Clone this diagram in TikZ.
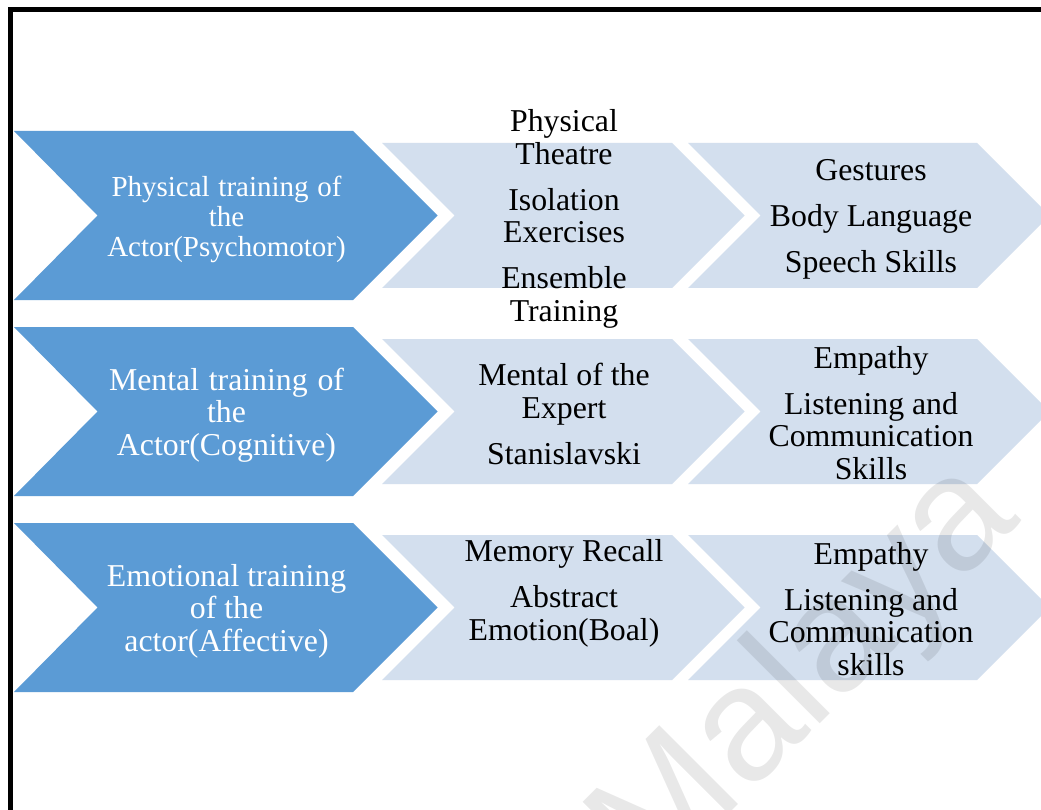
\documentclass[tikz,border=0pt]{standalone}
\usepackage{fontspec}
\setmainfont{Liberation Serif}
\newfontfamily\wmfont{Liberation Sans}
\definecolor{darkblue}{HTML}{5B9BD5}
\definecolor{lightblue}{HTML}{D3DFEE}
\begin{document}
\begin{tikzpicture}[x=1pt,y=-1pt,
  darkchev/.style={fill=darkblue},
  lightchev/.style={fill=lightblue},
  whitetxt/.style={text=white,align=center,inner sep=0pt,font=\fontsize{31.8}{32.5}\selectfont},
  whitetxtA/.style={text=white,align=center,inner sep=0pt,font=\fontsize{29}{30}\selectfont},
  blacktxt/.style={text=black,align=center,inner sep=0pt,font=\fontsize{31.8}{32.5}\selectfont},
  frameline/.style={line width=5pt,draw=black},
  wmark/.style={text=black,opacity=0.09,font=\wmfont\fontsize{162}{162}\selectfont,rotate=45,inner sep=0pt}
]
\useasboundingbox (0,0) rectangle (1041,810);
\fill[white] (0,0) rectangle (1041,810);
% frame
\draw[frameline] (10,812) -- (10,10) -- (1043,10);
% chevrons
\foreach \dy in {0,196,392}{
  \fill[darkchev] (14,131+\dy) -- (353,131+\dy) -- (437.5,215.5+\dy) -- (353,300+\dy) -- (14,300+\dy) -- (97.5,215.5+\dy) -- cycle;
  \fill[lightchev] (382,143+\dy) -- (672,143+\dy) -- (744.5,215.5+\dy) -- (672,288+\dy) -- (382,288+\dy) -- (454.5,215.5+\dy) -- cycle;
  \fill[lightchev] (688,143+\dy) -- (977,143+\dy) -- (1049.5,215.5+\dy) -- (977,288+\dy) -- (688,288+\dy) -- (760.5,215.5+\dy) -- cycle;
}
% row 1
\node[whitetxtA] (p1) at (226.5,219) {\makebox[230pt][s]{Physical training of}\\the\\Actor(Psychomotor)};
\node[blacktxt] (p2) at (564,219) {Physical\\Theatre\\[13.5pt]Isolation\\Exercises\\[13.5pt]Ensemble\\Training};
\node[blacktxt] (p3) at (871,219) {Gestures\\[13.5pt]Body Language\\[13.5pt]Speech Skills};
% row 2
\node[whitetxt] (m1) at (226.5,415) {\makebox[235pt][s]{Mental training of}\\the\\Actor(Cognitive)};
\node[blacktxt] (m2) at (564,414) {Mental of the\\Expert\\[13.5pt]Stanislavski};
\node[blacktxt] (m3) at (871,413) {Empathy\\[13.5pt]Listening and\\Communication\\Skills};
% row 3
\node[whitetxt] (e1) at (226.5,611) {Emotional training\\of the\\actor(Affective)};
\node[blacktxt] (e2) at (564,593.5) {Memory Recall\\[13.5pt]Abstract\\Emotion(Boal)};
\node[blacktxt] (e3) at (871,609) {Empathy\\[13.5pt]Listening and\\Communication\\skills};
% watermark
\node[wmark] (wm) at (808,676) {Malaya};
\end{tikzpicture}
\end{document}
